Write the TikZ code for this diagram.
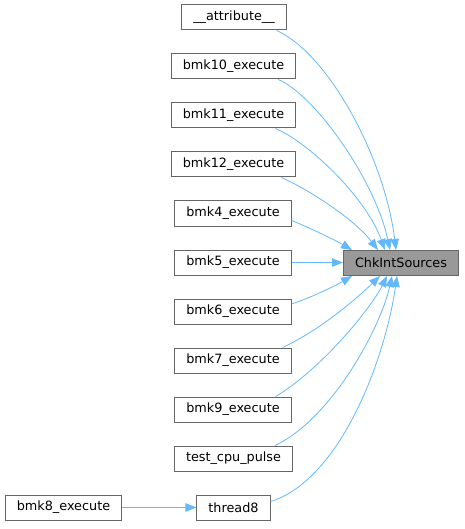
\documentclass[tikz,border=0pt]{standalone}
\usepackage{fontspec}
\setmainfont{DejaVu Sans}
\usetikzlibrary{arrows.meta}
\definecolor{cgEdge}{HTML}{63B8FF}
\definecolor{cgBorder}{HTML}{666666}
\definecolor{cgFill}{HTML}{999999}
\tikzset{
  cgBox/.style={draw=cgBorder, line width=1pt, fill=white, minimum height=25pt, inner xsep=11.5pt, inner ysep=0pt, font=\fontsize{12.8}{15}\selectfont},
  cgMain/.style={cgBox, fill=cgFill},
  cgCall/.style={draw=cgEdge, line width=0.8pt, -{Triangle[length=11pt,width=8.5pt]}}
}

\begin{document}
\begin{tikzpicture}[x=1pt,y=-1pt]
\useasboundingbox (0,0) rectangle (464,529);
\node[cgBox] (attr) at (234,17.5) {\_\_attribute\_\_};
\node[cgBox] (bmkTen) at (233.5,66.5) {bmk10\_execute};
\node[cgBox] (bmkEleven) at (233.5,115.5) {bmk11\_execute};
\node[cgBox] (bmkTwelve) at (233.5,164.5) {bmk12\_execute};
\node[cgBox] (bmkFour) at (233,213.5) {bmk4\_execute};
\node[cgBox] (bmkFive) at (233,262.5) {bmk5\_execute};
\node[cgBox] (bmkSix) at (233,311.5) {bmk6\_execute};
\node[cgBox] (bmkSeven) at (233,360.5) {bmk7\_execute};
\node[cgBox] (bmkNine) at (233,409.5) {bmk9\_execute};
\node[cgBox] (cpuPulse) at (233.5,458.5) {test\_cpu\_pulse};
\node[cgBox] (threadEight) at (233.5,507.5) {thread8};
\node[cgBox] (bmkEight) at (63.5,507.5) {bmk8\_execute};
\node[cgMain] (chk) at (401,263) {ChkIntSources};
\draw[cgCall] ([xshift=-10pt]attr.south east) .. controls (330,55) and (385,160) .. ([xshift=-5pt]chk.north);
\draw[cgCall] ([xshift=-18pt]bmkTen.south east) .. controls (315,95) and (375,180) .. ([xshift=-11pt]chk.north);
\draw[cgCall] ([xshift=-21pt]bmkEleven.south east) .. controls (305,140) and (365,195) .. ([xshift=-16pt]chk.north);
\draw[cgCall] ([xshift=-15pt]bmkTwelve.south east) .. controls (310,190) and (355,220) .. ([xshift=-23pt]chk.north);
\draw[cgCall] ([yshift=-7pt]bmkFour.east) .. controls (310,228) and (335,240) .. ([xshift=9pt]chk.north west);
\draw[cgCall] (bmkFive.east) -- (bmkFive.east -| chk.west);
\draw[cgCall] ([yshift=7.5pt]bmkSix.east) .. controls (310,298) and (335,286) .. ([xshift=9pt]chk.south west);
\draw[cgCall] ([xshift=-9pt]bmkSeven.north east) .. controls (320,330) and (355,300) .. ([xshift=-21pt]chk.south);
\draw[cgCall] ([xshift=-16pt]bmkNine.north east) .. controls (320,370) and (370,310) .. ([xshift=-14pt]chk.south);
\draw[cgCall] ([xshift=-18pt]cpuPulse.north east) .. controls (330,420) and (380,330) .. ([xshift=-9pt]chk.south);
\draw[cgCall] ([yshift=6pt]threadEight.east) .. controls (340,480) and (385,360) .. ([xshift=-4pt]chk.south);
\draw[cgCall] (bmkEight.east) -- (threadEight.west);
\end{tikzpicture}
\end{document}
